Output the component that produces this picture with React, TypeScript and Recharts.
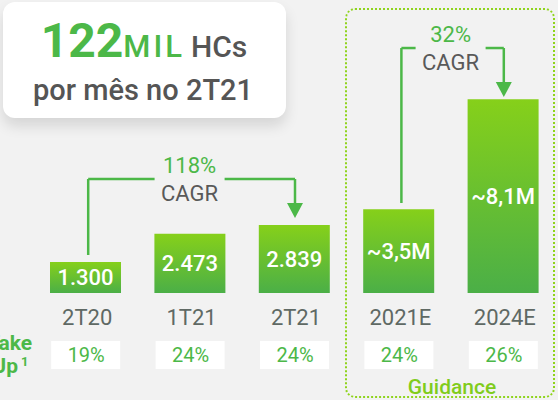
import React from 'react';
import { BarChart, Bar, XAxis, YAxis, LabelList, ReferenceLine } from 'recharts';

const categories = ['2T20', '1T21', '2T21', '2021E', '2024E'];
const hcValues = [1300, 2473, 2839, 3500, 8100];
const barLabels = ['1.300', '2.473', '2.839', '~3,5M', '~8,1M'];
const takeUpRates = ['19%', '24%', '24%', '24%', '26%'];

// CAGR brackets, heights in data units
const cagrFrom = ['2T20', '2021E'];
const cagrTo = ['2T21', '2024E'];
const cagrText = ['118%', '32%'];
const cagrTop = [4766, 10243];
const cagrStart = [1589, 3763];
const cagrEnd = [3135, 8194];

const data = categories.map((cat, i) => ({
  cat,
  value: hcValues[i],
  label: barLabels[i],
  takeUp: takeUpRates[i],
}));

const GREEN = '#4cb848';
const GRAY = '#5f6964';
const FONT = 'Roboto, "Noto Sans", sans-serif';

const CategoryTick = (props: any) => {
  const { x, y, payload, index } = props;
  return (
    <g>
      <text x={x + 2} y={y + 24} textAnchor="middle" dominantBaseline="central" fontSize={22} fill={GRAY} fontFamily={FONT}>
        {payload.value}
      </text>
      <rect x={x - 34} y={y + 48} width={69} height={28} fill="#ffffff" />
      <text x={x + 1} y={y + 62} textAnchor="middle" dominantBaseline="central" fontSize={20} fill={GREEN} fontFamily={FONT}>
        {takeUpRates[index]}
      </text>
    </g>
  );
};

const Bracket = (text: string) => (props: any) => {
  const { x1, y1, x2 } = props;
  const mid = (x1 + x2) / 2;
  return (
    <g>
      <polyline points={`${mid - 35},${y1} ${x1 + 3},${y1}`} fill="none" stroke={GREEN} strokeWidth={2.5} />
      <polyline points={`${mid + 35},${y1} ${x2 + 1},${y1}`} fill="none" stroke={GREEN} strokeWidth={2.5} />
      <text x={mid} y={y1 - 14} textAnchor="middle" dominantBaseline="central" fontSize={22} fill={GREEN} fontFamily={FONT}>
        {text}
      </text>
      <text x={mid} y={y1 + 14} textAnchor="middle" dominantBaseline="central" fontSize={22} fill="#595959" fontFamily={FONT}>
        CAGR
      </text>
    </g>
  );
};

const LeftLeg = (props: any) => {
  const { x1, y1, y2 } = props;
  return <line x1={x1 + 3} y1={y1} x2={x1 + 3} y2={y2} stroke={GREEN} strokeWidth={2.5} />;
};

const ArrowLeg = (props: any) => {
  const { x1, y1, y2 } = props;
  const x = x1 + 1;
  return (
    <g>
      <line x1={x} y1={y1} x2={x} y2={y2 - 14} stroke={GREEN} strokeWidth={2.5} />
      <polygon points={`${x - 8},${y2 - 15} ${x + 8},${y2 - 15} ${x},${y2}`} fill={GREEN} />
    </g>
  );
};

export default function App() {
  return (
    <div style={{ position: 'absolute', left: 0, top: 0, width: 558, height: 400, background: '#f2f2f2', overflow: 'hidden', fontFamily: FONT }}>
      <div
        style={{
          position: 'absolute', left: 345, top: 8, width: 206, height: 386,
          border: '2px dotted #8fd41c', borderRadius: 10,
        }}
      />
      <div
        style={{
          position: 'absolute', left: 3, top: 2, width: 283, height: 116,
          background: '#ffffff', borderRadius: 12, boxShadow: '0 8px 14px rgba(0,0,0,0.12)',
        }}
      />
      <svg width={558} height={400} style={{ position: 'absolute', left: 0, top: 0 }}>
        <text x={144} y={57} textAnchor="middle" fontFamily={FONT}>
          <tspan fontSize={48} fontWeight={700} fill={GREEN}>122</tspan>
          <tspan fontSize={31} fontWeight={500} fill={GREEN} letterSpacing={3}>MIL</tspan>
          <tspan dx={6} fontSize={30} fontWeight={500} fill="#555555">HCs</tspan>
        </text>
        <text x={143} y={100} textAnchor="middle" fontFamily={FONT} fontSize={29} fontWeight={500} fill="#555555">
          por mês no 2T21
        </text>
        <text x={32} y={350} textAnchor="end" fontFamily={FONT} fontSize={21} fontWeight={700} fill={GREEN}>Take</text>
        <text x={18} y={373} textAnchor="end" fontFamily={FONT} fontSize={21} fontWeight={700} fill={GREEN}>Up</text>
        <text x={21} y={366} fontFamily={FONT} fontSize={13} fontWeight={700} fill={GREEN}>1</text>
        <text x={452} y={387} textAnchor="middle" dominantBaseline="central" fontFamily={FONT} fontSize={21} fontWeight={500} fill="#80cc1c">
          Guidance
        </text>
      </svg>
      <div style={{ position: 'absolute', left: 0, top: 0 }}>
        <BarChart width={558} height={400} data={data} margin={{ top: 6, right: 3, left: 33, bottom: 0 }}>
          <defs>
            <linearGradient id="barGrad" x1="0" y1="0" x2="0" y2="1">
              <stop offset="0%" stopColor="#86d01a" />
              <stop offset="100%" stopColor="#4baf47" />
            </linearGradient>
          </defs>
          <XAxis
            dataKey="cat"
            height={107}
            axisLine={false}
            tickLine={false}
            tickSize={0}
            tickMargin={0}
            interval={0}
            tick={<CategoryTick />}
          />
          <YAxis hide domain={[0, 12000]} />
          <Bar dataKey="value" barSize={71} fill="url(#barGrad)" isAnimationActive={false}>
            <LabelList dataKey="label" position="center" fill="#ffffff" fontSize={22} fontWeight={500} fontFamily={FONT} />
          </Bar>
          {cagrFrom.map((from, i) => (
            <ReferenceLine
              key={`leg-${i}`}
              segment={[{ x: from, y: cagrStart[i] }, { x: from, y: cagrTop[i] }]}
              shape={LeftLeg}
            />
          ))}
          {cagrFrom.map((from, i) => (
            <ReferenceLine
              key={`top-${i}`}
              segment={[{ x: from, y: cagrTop[i] }, { x: cagrTo[i], y: cagrTop[i] }]}
              shape={Bracket(cagrText[i])}
            />
          ))}
          {cagrTo.map((to, i) => (
            <ReferenceLine
              key={`arrow-${i}`}
              segment={[{ x: to, y: cagrTop[i] }, { x: to, y: cagrEnd[i] }]}
              shape={ArrowLeg}
            />
          ))}
        </BarChart>
      </div>
    </div>
  );
}
